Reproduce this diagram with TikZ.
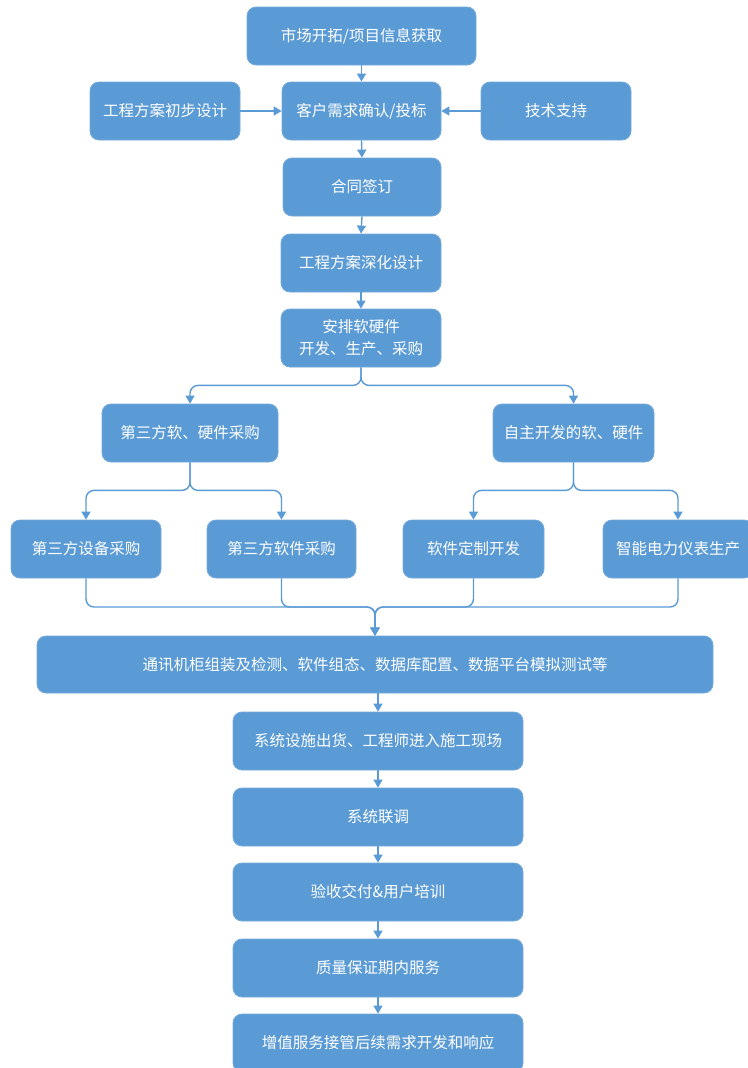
\documentclass[tikz,border=0pt]{standalone}
\usepackage{fontspec}
\newfontfamily\cjk{Noto Sans CJK SC}
\usetikzlibrary{arrows.meta}
\definecolor{boxblue}{RGB}{91,155,213}
\tikzset{
  box/.style={rectangle, rounded corners=9pt, fill=boxblue, draw=boxblue!85!white, line width=0.8pt,
    text=white, font=\cjk\fontsize{15.5}{22}\selectfont, align=center, inner sep=2pt},
  conn/.style={draw=boxblue, line width=1.4pt, -{Triangle[width=9pt,length=8pt]}},
}
\begin{document}
\begin{tikzpicture}[x=1pt,y=-1pt]
\fill[white] (0,0) rectangle (747,1068);
\useasboundingbox (0,0) rectangle (747,1068);

\node[box, minimum width=229pt, minimum height=58pt] (b1) at (361.5,36) {市场开拓/项目信息获取};
\node[box, minimum width=159pt, minimum height=58pt] (b2) at (361.5,111) {客户需求确认/投标};
\node[box, minimum width=150pt, minimum height=58pt] (bl) at (165,111) {工程方案初步设计};
\node[box, minimum width=150pt, minimum height=58pt] (br) at (556,111) {技术支持};
\node[box, minimum width=158pt, minimum height=58pt] (b3) at (362,187) {合同签订};
\node[box, minimum width=160pt, minimum height=58pt] (b4) at (361,263) {工程方案深化设计};
\node[box, minimum width=160pt, minimum height=58pt] (b5) at (361,338) {安排软硬件\\开发、生产、采购};

\node[box, minimum width=176pt, minimum height=58pt] (c1) at (190,433) {第三方软、硬件采购};
\node[box, minimum width=161pt, minimum height=58pt] (c2) at (573.5,433) {自主开发的软、硬件};

\node[box, minimum width=150pt, minimum height=58pt] (d1) at (86,549) {第三方设备采购};
\node[box, minimum width=149pt, minimum height=58pt] (d2) at (281.5,549) {第三方软件采购};
\node[box, minimum width=141pt, minimum height=58pt] (d3) at (473.5,549) {软件定制开发};
\node[box, minimum width=150pt, minimum height=58pt] (d4) at (678,549) {智能电力仪表生产};

\node[box, minimum width=676pt, minimum height=57pt] (e1) at (375,664.5) {通讯机柜组装及检测、软件组态、数据库配置、数据平台模拟测试等};
\node[box, minimum width=290pt, minimum height=58pt] (e2) at (378,741) {系统设施出货、工程师进入施工现场};
\node[box, minimum width=290pt, minimum height=58pt] (e3) at (378,817) {系统联调};
\node[box, minimum width=290pt, minimum height=58pt] (e4) at (378,892) {验收交付\&用户培训};
\node[box, minimum width=290pt, minimum height=58pt] (e5) at (378,968) {质量保证期内服务};
\node[box, minimum width=290pt, minimum height=58pt] (e6) at (378,1043) {增值服务接管后续需求开发和响应};

\coordinate (m) at (375,607);

\draw[conn] (b1.south) -- (b2.north);
\draw[conn] (bl.east) -- (b2.west);
\draw[conn] (br.west) -- (b2.east);
\draw[conn] (b2.south) -- (b3.north);
\draw[conn] (b3.south) -- (b4.north);
\draw[conn] (b4.south) -- (b5.north);

\draw[conn, rounded corners=8pt] (b5.south) -- ++(0,18) -| (c1.north);
\draw[conn, rounded corners=8pt] (b5.south) -- ++(0,18) -| (c2.north);

\draw[conn, rounded corners=8pt] (c1.south) -- ++(0,28) -| (d1.north);
\draw[conn, rounded corners=8pt] (c1.south) -- ++(0,28) -| (d2.north);
\draw[conn, rounded corners=8pt] (c2.south) -- ++(0,28) -| (d3.north);
\draw[conn, rounded corners=8pt] (c2.south) -- ++(0,28) -| (d4.north);

\draw[conn, rounded corners=8pt] (d1.south) |- (m) -- (e1.north);
\draw[conn, rounded corners=8pt] (d2.south) |- (m) -- (e1.north);
\draw[conn, rounded corners=8pt] (d3.south) |- (m) -- (e1.north);
\draw[conn, rounded corners=8pt] (d4.south) |- (m) -- (e1.north);

\draw[conn] (e1.south -| e2.north) -- (e2.north);
\draw[conn] (e2.south) -- (e3.north);
\draw[conn] (e3.south) -- (e4.north);
\draw[conn] (e4.south) -- (e5.north);
\draw[conn] (e5.south) -- (e6.north);
\end{tikzpicture}
\end{document}
